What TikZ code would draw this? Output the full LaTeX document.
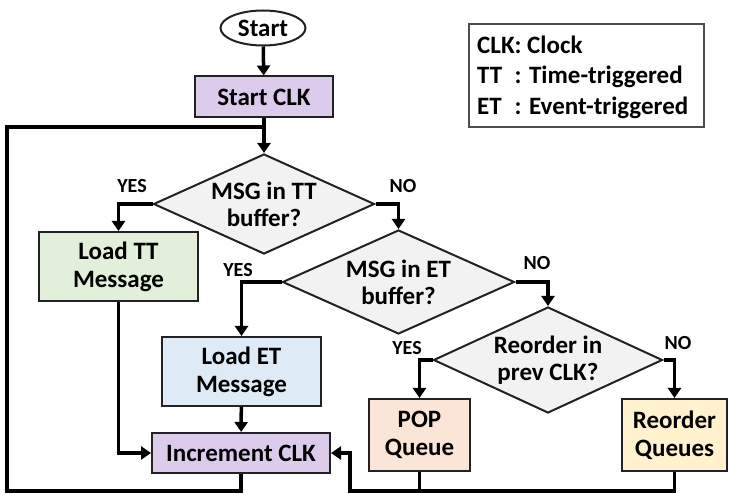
\documentclass[tikz,border=0pt]{standalone}
\usepackage{fontspec}
\setmainfont{Carlito}
\usetikzlibrary{shapes.geometric,arrows.meta,calc}
\definecolor{clkpurple}{HTML}{DCCBEA}
\definecolor{ttgreen}{HTML}{E2EFDA}
\definecolor{etblue}{HTML}{DEEBF7}
\definecolor{poppeach}{HTML}{FBE5D6}
\definecolor{reoyellow}{HTML}{FFF2CC}
\definecolor{decgray}{HTML}{F2F2F2}
\definecolor{edgegray}{HTML}{222222}
\newcommand{\abbrevcol}[1]{\makebox[0pt][l]{#1}\phantom{CLK}}
\tikzset{
  box/.style={draw=edgegray, line width=2pt, rectangle, inner sep=0pt,
    align=center, font=\fontsize{25}{28}\selectfont\bfseries},
  % the diamond keeps its given size; its question is set as a centred label
  decision/.style={draw=edgegray, line width=2pt, diamond, inner sep=0pt,
    fill=decgray,
    label={[align=center, inner sep=0pt,
      font=\fontsize{25}{27}\selectfont\bfseries]center:#1}},
  flow/.style={line width=3.5pt, -{Triangle[length=10pt,width=13pt]}},
  link/.style={line width=3.5pt},
  answer/.style={font=\fontsize{20}{22}\selectfont\bfseries, inner sep=0pt},
}
\begin{document}
\begin{tikzpicture}[x=1pt,y=-1pt]
\useasboundingbox (0,0) rectangle (729,494);

% process steps
\node[draw=edgegray, line width=2pt, ellipse, fill=white, minimum width=85pt,
  minimum height=35pt, inner sep=0pt, font=\fontsize{25}{28}\selectfont\bfseries]
  (start) at (263,28) {Start};
\node[box, fill=clkpurple, minimum width=138pt, minimum height=41pt]
  (startclk) at (264,97) {Start CLK};
\node[decision={MSG in TT\\buffer?}, minimum width=221pt, minimum height=100pt]
  (dtt) at (264,204) {};
\node[box, fill=ttgreen, minimum width=159pt, minimum height=69pt]
  (loadtt) at (118.5,266.5) {Load TT\\Message};
\node[decision={MSG in ET\\buffer?}, minimum width=232pt, minimum height=104pt]
  (det) at (398.5,282) {};
\node[box, fill=etblue, minimum width=159pt, minimum height=69pt]
  (loadet) at (241.5,371.5) {Load ET\\Message};
\node[box, fill=clkpurple, minimum width=178pt, minimum height=40pt]
  (inc) at (241,453) {Increment CLK};
\node[decision={Reorder in\\prev CLK?}, minimum width=229pt, minimum height=106pt]
  (dre) at (548,360) {};
\node[box, fill=poppeach, minimum width=101pt, minimum height=72pt]
  (pop) at (419.5,435) {POP\\Queue};
\node[box, fill=reoyellow, minimum width=105pt, minimum height=72pt]
  (reo) at (674.5,435) {Reorder\\Queues};

% legend
\node[draw=edgegray!80, line width=1.2pt, rectangle, minimum width=235pt,
  minimum height=103pt, inner sep=0pt] (legend) at (586.5,75.5) {};
\node[anchor=west, align=left, inner sep=0pt,
  font=\fontsize{25}{30.5}\selectfont\bfseries] (legendtext) at (477,77)
  {CLK: Clock\\
   \abbrevcol{TT}: Time-triggered\\
   \abbrevcol{ET}: Event-triggered};

% junction points of the loop and the return bus
\coordinate (loopin) at (264,127);
\coordinate (busl) at (350,491);

% main flow
\draw[flow] (start) -- (startclk);
\draw[flow] (startclk) -- (dtt);
\draw[link] (inc.south) -- (inc.south |- busl) -- (7,491) -- (7,127) -- (loopin);
\draw[flow] (dtt.west) -| (loadtt.north);
\draw[flow] (dtt.east) -| (det.north);
\draw[flow] (det.west) -| (loadet.north);
\draw[flow] (loadet) -- (inc);
\draw[flow] (loadtt.south) |- (inc.west);
\draw[flow] (det.east) -| (dre.north);
\draw[flow] (dre.west) -| (pop.north);
\draw[flow] (dre.east) -| (reo.north);
\draw[link] (pop.south) -- (pop.south |- busl);
\draw[flow] (reo.south) -- (reo.south |- busl) -- (busl) |- (inc.east);

% branch answers
\node[answer] (y1) at (132,186) {YES};
\node[answer] (n1) at (403,186) {NO};
\node[answer] (y2) at (238,270) {YES};
\node[answer] (n2) at (537,263) {NO};
\node[answer] (y3) at (407,348) {YES};
\node[answer] (n3) at (678,343) {NO};
\end{tikzpicture}
\end{document}
